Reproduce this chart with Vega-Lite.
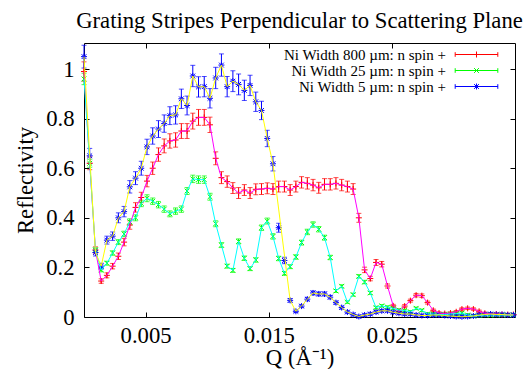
{
"$schema": "https://vega.github.io/schema/vega-lite/v6.json",
"width": 431, "height": 274,
"autosize": {"type": "none"},
"padding": {"left": 84, "top": 43, "right": 8, "bottom": 52},
"title": {"text": "Grating Stripes Perpendicular to Scattering Plane", "font": "Liberation Serif", "fontSize": 22.7, "fontWeight": "normal", "color": "black", "frame": "group", "anchor": "middle", "offset": 10},
"data": {"values": [
{"s":"800","q":0,"r":0.99,"e":0.039},{"s":"800","q":0.000465,"r":0.62,"e":0.026},{"s":"800","q":0.00093,"r":0.27,"e":0.013},{"s":"800","q":0.001395,"r":0.145,"e":0.009},{"s":"800","q":0.00186,"r":0.168,"e":0.010},{"s":"800","q":0.002325,"r":0.205,"e":0.011},{"s":"800","q":0.00279,"r":0.245,"e":0.013},{"s":"800","q":0.003255,"r":0.302,"e":0.015},{"s":"800","q":0.00372,"r":0.371,"e":0.017},{"s":"800","q":0.004185,"r":0.442,"e":0.019},{"s":"800","q":0.00465,"r":0.482,"e":0.021},{"s":"800","q":0.005115,"r":0.548,"e":0.023},{"s":"800","q":0.00558,"r":0.60,"e":0.025},{"s":"800","q":0.006045,"r":0.655,"e":0.027},{"s":"800","q":0.00651,"r":0.69,"e":0.028},{"s":"800","q":0.006975,"r":0.71,"e":0.029},{"s":"800","q":0.00744,"r":0.714,"e":0.029},{"s":"800","q":0.007905,"r":0.75,"e":0.030},{"s":"800","q":0.00837,"r":0.75,"e":0.030},{"s":"800","q":0.008835,"r":0.79,"e":0.032},{"s":"800","q":0.0093,"r":0.805,"e":0.032},{"s":"800","q":0.009765,"r":0.805,"e":0.032},{"s":"800","q":0.01023,"r":0.775,"e":0.031},{"s":"800","q":0.010695,"r":0.64,"e":0.026},{"s":"800","q":0.01116,"r":0.562,"e":0.024},{"s":"800","q":0.011625,"r":0.546,"e":0.023},{"s":"800","q":0.01209,"r":0.52,"e":0.022},{"s":"800","q":0.012555,"r":0.50,"e":0.022},{"s":"800","q":0.01302,"r":0.512,"e":0.022},{"s":"800","q":0.013485,"r":0.50,"e":0.022},{"s":"800","q":0.01395,"r":0.515,"e":0.022},{"s":"800","q":0.014415,"r":0.516,"e":0.022},{"s":"800","q":0.01488,"r":0.519,"e":0.022},{"s":"800","q":0.015345,"r":0.516,"e":0.022},{"s":"800","q":0.01581,"r":0.526,"e":0.022},{"s":"800","q":0.016275,"r":0.526,"e":0.022},{"s":"800","q":0.01674,"r":0.512,"e":0.022},{"s":"800","q":0.017205,"r":0.526,"e":0.022},{"s":"800","q":0.01767,"r":0.543,"e":0.023},{"s":"800","q":0.018135,"r":0.539,"e":0.023},{"s":"800","q":0.0186,"r":0.532,"e":0.023},{"s":"800","q":0.019065,"r":0.521,"e":0.022},{"s":"800","q":0.01953,"r":0.535,"e":0.023},{"s":"800","q":0.019995,"r":0.535,"e":0.023},{"s":"800","q":0.02046,"r":0.539,"e":0.023},{"s":"800","q":0.020925,"r":0.532,"e":0.023},{"s":"800","q":0.02139,"r":0.526,"e":0.022},{"s":"800","q":0.021855,"r":0.516,"e":0.022},{"s":"800","q":0.02232,"r":0.40,"e":0.018},{"s":"800","q":0.022785,"r":0.19,"e":0.011},{"s":"800","q":0.02325,"r":0.155,"e":0.009},{"s":"800","q":0.023715,"r":0.22,"e":0.012},{"s":"800","q":0.02418,"r":0.213,"e":0.011},{"s":"800","q":0.024645,"r":0.125,"e":0.008},{"s":"800","q":0.02511,"r":0.045,"e":0.006},{"s":"800","q":0.025575,"r":0.022,"e":0.005},{"s":"800","q":0.02604,"r":0.044,"e":0.006},{"s":"800","q":0.026505,"r":0.066,"e":0.006},{"s":"800","q":0.02697,"r":0.088,"e":0.007},{"s":"800","q":0.027435,"r":0.086,"e":0.007},{"s":"800","q":0.0279,"r":0.058,"e":0.006},{"s":"800","q":0.028365,"r":0.027,"e":0.005},{"s":"800","q":0.02883,"r":0.016,"e":0.005},{"s":"800","q":0.029295,"r":0.014,"e":0.005},{"s":"800","q":0.02976,"r":0.016,"e":0.005},{"s":"800","q":0.030225,"r":0.021,"e":0.005},{"s":"800","q":0.03069,"r":0.032,"e":0.005},{"s":"800","q":0.031155,"r":0.035,"e":0.005},{"s":"800","q":0.03162,"r":0.032,"e":0.005},{"s":"800","q":0.032085,"r":0.023,"e":0.005},{"s":"800","q":0.03255,"r":0.015,"e":0.005},{"s":"800","q":0.033015,"r":0.012,"e":0.005},{"s":"800","q":0.03348,"r":0.012,"e":0.005},{"s":"800","q":0.033945,"r":0.01,"e":0.005},{"s":"800","q":0.03441,"r":0.01,"e":0.005},{"s":"800","q":0.034875,"r":0.01,"e":0.005},
{"s":"25","q":0,"r":0.96,"e":0.023},{"s":"25","q":0.000465,"r":0.62,"e":0.016},{"s":"25","q":0.00093,"r":0.27,"e":0.009},{"s":"25","q":0.001395,"r":0.19,"e":0.008},{"s":"25","q":0.00186,"r":0.217,"e":0.008},{"s":"25","q":0.002325,"r":0.258,"e":0.009},{"s":"25","q":0.00279,"r":0.302,"e":0.010},{"s":"25","q":0.003255,"r":0.335,"e":0.011},{"s":"25","q":0.00372,"r":0.384,"e":0.012},{"s":"25","q":0.004185,"r":0.40,"e":0.012},{"s":"25","q":0.00465,"r":0.458,"e":0.013},{"s":"25","q":0.005115,"r":0.479,"e":0.014},{"s":"25","q":0.00558,"r":0.467,"e":0.013},{"s":"25","q":0.006045,"r":0.453,"e":0.013},{"s":"25","q":0.00651,"r":0.435,"e":0.013},{"s":"25","q":0.006975,"r":0.416,"e":0.012},{"s":"25","q":0.00744,"r":0.427,"e":0.013},{"s":"25","q":0.007905,"r":0.435,"e":0.013},{"s":"25","q":0.00837,"r":0.508,"e":0.014},{"s":"25","q":0.008835,"r":0.557,"e":0.015},{"s":"25","q":0.0093,"r":0.554,"e":0.015},{"s":"25","q":0.009765,"r":0.554,"e":0.015},{"s":"25","q":0.01023,"r":0.485,"e":0.014},{"s":"25","q":0.010695,"r":0.376,"e":0.012},{"s":"25","q":0.01116,"r":0.29,"e":0.010},{"s":"25","q":0.011625,"r":0.205,"e":0.008},{"s":"25","q":0.01209,"r":0.188,"e":0.008},{"s":"25","q":0.012555,"r":0.305,"e":0.010},{"s":"25","q":0.01302,"r":0.237,"e":0.009},{"s":"25","q":0.013485,"r":0.195,"e":0.008},{"s":"25","q":0.01395,"r":0.23,"e":0.009},{"s":"25","q":0.014415,"r":0.36,"e":0.011},{"s":"25","q":0.01488,"r":0.387,"e":0.012},{"s":"25","q":0.015345,"r":0.325,"e":0.011},{"s":"25","q":0.01581,"r":0.236,"e":0.009},{"s":"25","q":0.016275,"r":0.176,"e":0.008},{"s":"25","q":0.01674,"r":0.203,"e":0.008},{"s":"25","q":0.017205,"r":0.242,"e":0.009},{"s":"25","q":0.01767,"r":0.30,"e":0.010},{"s":"25","q":0.018135,"r":0.343,"e":0.011},{"s":"25","q":0.0186,"r":0.373,"e":0.011},{"s":"25","q":0.019065,"r":0.354,"e":0.011},{"s":"25","q":0.01953,"r":0.32,"e":0.010},{"s":"25","q":0.019995,"r":0.24,"e":0.009},{"s":"25","q":0.02046,"r":0.105,"e":0.006},{"s":"25","q":0.020925,"r":0.124,"e":0.006},{"s":"25","q":0.02139,"r":0.06,"e":0.005},{"s":"25","q":0.021855,"r":0.09,"e":0.006},{"s":"25","q":0.02232,"r":0.164,"e":0.007},{"s":"25","q":0.022785,"r":0.141,"e":0.007},{"s":"25","q":0.02325,"r":0.097,"e":0.006},{"s":"25","q":0.023715,"r":0.038,"e":0.005},{"s":"25","q":0.02418,"r":0.045,"e":0.005},{"s":"25","q":0.024645,"r":0.04,"e":0.005},{"s":"25","q":0.02511,"r":0.035,"e":0.005},{"s":"25","q":0.025575,"r":0.028,"e":0.005},{"s":"25","q":0.02604,"r":0.026,"e":0.005},{"s":"25","q":0.026505,"r":0.021,"e":0.005},{"s":"25","q":0.02697,"r":0.035,"e":0.005},{"s":"25","q":0.027435,"r":0.027,"e":0.005},{"s":"25","q":0.0279,"r":0.012,"e":0.005},{"s":"25","q":0.028365,"r":0.012,"e":0.005},{"s":"25","q":0.02883,"r":0.01,"e":0.005},{"s":"25","q":0.029295,"r":0.01,"e":0.005},{"s":"25","q":0.02976,"r":0.012,"e":0.005},{"s":"25","q":0.030225,"r":0.014,"e":0.005},{"s":"25","q":0.03069,"r":0.016,"e":0.005},{"s":"25","q":0.031155,"r":0.008,"e":0.005},{"s":"25","q":0.03162,"r":0.004,"e":0.005},{"s":"25","q":0.032085,"r":0.006,"e":0.005},{"s":"25","q":0.03255,"r":0.008,"e":0.005},{"s":"25","q":0.033015,"r":0.008,"e":0.005},{"s":"25","q":0.03348,"r":0.008,"e":0.005},{"s":"25","q":0.033945,"r":0.008,"e":0.005},{"s":"25","q":0.03441,"r":0.008,"e":0.005},{"s":"25","q":0.034875,"r":0.008,"e":0.005},
{"s":"5","q":0,"r":1.05,"e":0.046},{"s":"5","q":0.000465,"r":0.65,"e":0.030},{"s":"5","q":0.00093,"r":0.26,"e":0.014},{"s":"5","q":0.001395,"r":0.205,"e":0.012},{"s":"5","q":0.00186,"r":0.31,"e":0.016},{"s":"5","q":0.002325,"r":0.326,"e":0.017},{"s":"5","q":0.00279,"r":0.40,"e":0.020},{"s":"5","q":0.003255,"r":0.425,"e":0.021},{"s":"5","q":0.00372,"r":0.525,"e":0.025},{"s":"5","q":0.004185,"r":0.56,"e":0.026},{"s":"5","q":0.00465,"r":0.60,"e":0.028},{"s":"5","q":0.005115,"r":0.686,"e":0.031},{"s":"5","q":0.00558,"r":0.73,"e":0.033},{"s":"5","q":0.006045,"r":0.758,"e":0.034},{"s":"5","q":0.00651,"r":0.78,"e":0.035},{"s":"5","q":0.006975,"r":0.812,"e":0.036},{"s":"5","q":0.00744,"r":0.815,"e":0.037},{"s":"5","q":0.007905,"r":0.88,"e":0.039},{"s":"5","q":0.00837,"r":0.853,"e":0.038},{"s":"5","q":0.008835,"r":0.972,"e":0.043},{"s":"5","q":0.0093,"r":0.928,"e":0.041},{"s":"5","q":0.009765,"r":0.929,"e":0.041},{"s":"5","q":0.01023,"r":0.882,"e":0.039},{"s":"5","q":0.010695,"r":0.964,"e":0.043},{"s":"5","q":0.01116,"r":1.016,"e":0.045},{"s":"5","q":0.011625,"r":0.929,"e":0.041},{"s":"5","q":0.01209,"r":0.951,"e":0.042},{"s":"5","q":0.012555,"r":0.938,"e":0.042},{"s":"5","q":0.01302,"r":0.914,"e":0.041},{"s":"5","q":0.013485,"r":0.934,"e":0.041},{"s":"5","q":0.01395,"r":0.868,"e":0.039},{"s":"5","q":0.014415,"r":0.833,"e":0.037},{"s":"5","q":0.01488,"r":0.72,"e":0.033},{"s":"5","q":0.015345,"r":0.618,"e":0.029},{"s":"5","q":0.01581,"r":0.36,"e":0.018,"skip":1},{"s":"5","q":0.016275,"r":0.228,"e":0.013,"skip":1},{"s":"5","q":0.01674,"r":0.067,"e":0.007},{"s":"5","q":0.017205,"r":0.023,"e":0.005},{"s":"5","q":0.01767,"r":0.044,"e":0.006},{"s":"5","q":0.018135,"r":0.072,"e":0.007},{"s":"5","q":0.0186,"r":0.097,"e":0.008},{"s":"5","q":0.019065,"r":0.093,"e":0.008},{"s":"5","q":0.01953,"r":0.093,"e":0.008},{"s":"5","q":0.019995,"r":0.08,"e":0.007},{"s":"5","q":0.02046,"r":0.058,"e":0.006},{"s":"5","q":0.020925,"r":0.038,"e":0.006},{"s":"5","q":0.02139,"r":0.02,"e":0.005},{"s":"5","q":0.021855,"r":0.01,"e":0.005},{"s":"5","q":0.02232,"r":0.002,"e":0.005},{"s":"5","q":0.022785,"r":0.008,"e":0.005},{"s":"5","q":0.02325,"r":0.012,"e":0.005},{"s":"5","q":0.023715,"r":0.02,"e":0.005},{"s":"5","q":0.02418,"r":0.025,"e":0.005},{"s":"5","q":0.024645,"r":0.025,"e":0.005},{"s":"5","q":0.02511,"r":0.019,"e":0.005},{"s":"5","q":0.025575,"r":0.015,"e":0.005},{"s":"5","q":0.02604,"r":0.012,"e":0.005},{"s":"5","q":0.026505,"r":0.012,"e":0.005},{"s":"5","q":0.02697,"r":0.008,"e":0.005},{"s":"5","q":0.027435,"r":0.006,"e":0.005},{"s":"5","q":0.0279,"r":0.006,"e":0.005},{"s":"5","q":0.028365,"r":0.008,"e":0.005},{"s":"5","q":0.02883,"r":0.008,"e":0.005},{"s":"5","q":0.029295,"r":0.006,"e":0.005},{"s":"5","q":0.02976,"r":0.004,"e":0.005},{"s":"5","q":0.030225,"r":0.002,"e":0.005},{"s":"5","q":0.03069,"r":0.001,"e":0.005},{"s":"5","q":0.031155,"r":0.002,"e":0.005},{"s":"5","q":0.03162,"r":0.004,"e":0.005},{"s":"5","q":0.032085,"r":0.008,"e":0.005},{"s":"5","q":0.03255,"r":0.01,"e":0.005},{"s":"5","q":0.033015,"r":0.012,"e":0.005},{"s":"5","q":0.03348,"r":0.01,"e":0.005},{"s":"5","q":0.033945,"r":0.01,"e":0.005},{"s":"5","q":0.03441,"r":0.008,"e":0.005},{"s":"5","q":0.034875,"r":0.008,"e":0.005}
]},
"layer": [
{
"encoding": {
"x": {"field": "q", "type": "quantitative", "scale": {"domain": [0, 0.035], "nice": false, "zero": false}, "axis": {"values": [0.005, 0.015, 0.025], "format": ".3f", "title": "Q  (Å⁻¹)"}},
"y": {"field": "r", "type": "quantitative", "scale": {"domain": [0, 1.105], "nice": false}, "axis": {"values": [0, 0.2, 0.4, 0.6, 0.8, 1], "format": "~g", "title": "Reflectivity"}},
"color": {"field": "s", "type": "nominal", "scale": {"domain": ["800", "25", "5"], "range": ["#ff0000", "#00ff00", "#0000ff"]},
   "legend": {"title": null, "orient": "none", "legendX": 385, "legendY": 4, "labelExpr": "'Ni Width ' + datum.label + ' µm: n spin +'",
    "encode": {"symbols": {"update": {"shape": {"signal": "datum.value === '800' ? 'M-10.65,0H10.65M-10.65,-1.15V1.15M10.65,-1.15V1.15M0,-1.5V1.5' : datum.value === '25' ? 'M-10.65,0H10.65M-10.65,-1.15V1.15M10.65,-1.15V1.15M-1.2,-1.2L1.2,1.2M-1.2,1.2L1.2,-1.2' : 'M-10.65,0H10.65M-10.65,-1.15V1.15M10.65,-1.15V1.15M0,-1.5V1.5M-1.2,-1.2L1.2,1.2M-1.2,1.2L1.2,-1.2'"}, "fill": {"value": "transparent"}, "stroke": {"scale": "color", "field": "value"}, "strokeWidth": {"value": 1}, "size": {"value": 16}, "opacity": {"value": 1}}}}}}
},
"layer": [
{"mark": {"type": "errorbar", "ticks": {"size": 5}, "thickness": 1},
 "encoding": {"yError": {"field": "e"}}},
{"transform": [{"filter": "datum.s === '800'"}],
 "mark": {"type": "point", "filled": false, "strokeWidth": 1, "size": 36, "opacity": 1, "shape": "M-1,0H1M0,-1V1"}},
{"transform": [{"filter": "datum.s === '25'"}],
 "mark": {"type": "point", "filled": false, "strokeWidth": 1, "size": 36, "opacity": 1, "shape": "M-0.8,-0.8L0.8,0.8M-0.8,0.8L0.8,-0.8"}},
{"transform": [{"filter": "datum.s === '5'"}],
 "mark": {"type": "point", "filled": false, "strokeWidth": 1, "size": 36, "opacity": 1, "shape": "M-1,0H1M0,-1V1M-0.8,-0.8L0.8,0.8M-0.8,0.8L0.8,-0.8"}},
{"transform": [{"filter": "!datum.skip"}],
 "mark": {"type": "line", "strokeWidth": 1, "interpolate": "linear"},
 "encoding": {
  "color": null,
  "stroke": {"field": "s", "type": "nominal", "scale": {"domain": ["800", "25", "5"], "range": ["#ff00ff", "#00ffff", "#ffff00"]}, "legend": null},
  "order": {"field": "q", "type": "quantitative"}
 }}
]
},
{"mark": {"type": "point", "opacity": 0},
 "encoding": {
  "x": {"field": "q", "type": "quantitative", "scale": {"domain": [0, 0.035], "nice": false, "zero": false}, "axis": {"orient": "top", "values": [0.005, 0.015, 0.025], "labels": false, "title": null}},
  "y": {"field": "r", "type": "quantitative", "scale": {"domain": [0, 1.105], "nice": false}, "axis": {"orient": "right", "values": [0, 0.2, 0.4, 0.6, 0.8, 1], "labels": false, "title": null}}
 }}
],
"resolve": {"axis": {"x": "independent", "y": "independent"}},
"config": {
 "view": {"stroke": "black", "strokeWidth": 1},
 "axis": {"labelFont": "Liberation Serif", "titleFont": "Liberation Serif", "labelFontSize": 22.7, "titleFontSize": 22.7, "titleFontWeight": "normal", "labelColor": "black", "titleColor": "black", "tickColor": "black", "tickSize": -5, "grid": false, "domain": false, "labelFlush": false, "labelOverlap": false},
 "axisX": {"labelPadding": 12, "titlePadding": 0},
 "axisY": {"labelPadding": 15, "titlePadding": 8},
 "legend": {"labelFont": "Liberation Serif", "labelFontSize": 15, "labelColor": "black", "labelAlign": "right", "labelOffset": -38, "labelLimit": 0, "symbolSize": 16, "symbolStrokeWidth": 1, "rowPadding": 0, "padding": 0, "symbolOffset": 0}
}
}
